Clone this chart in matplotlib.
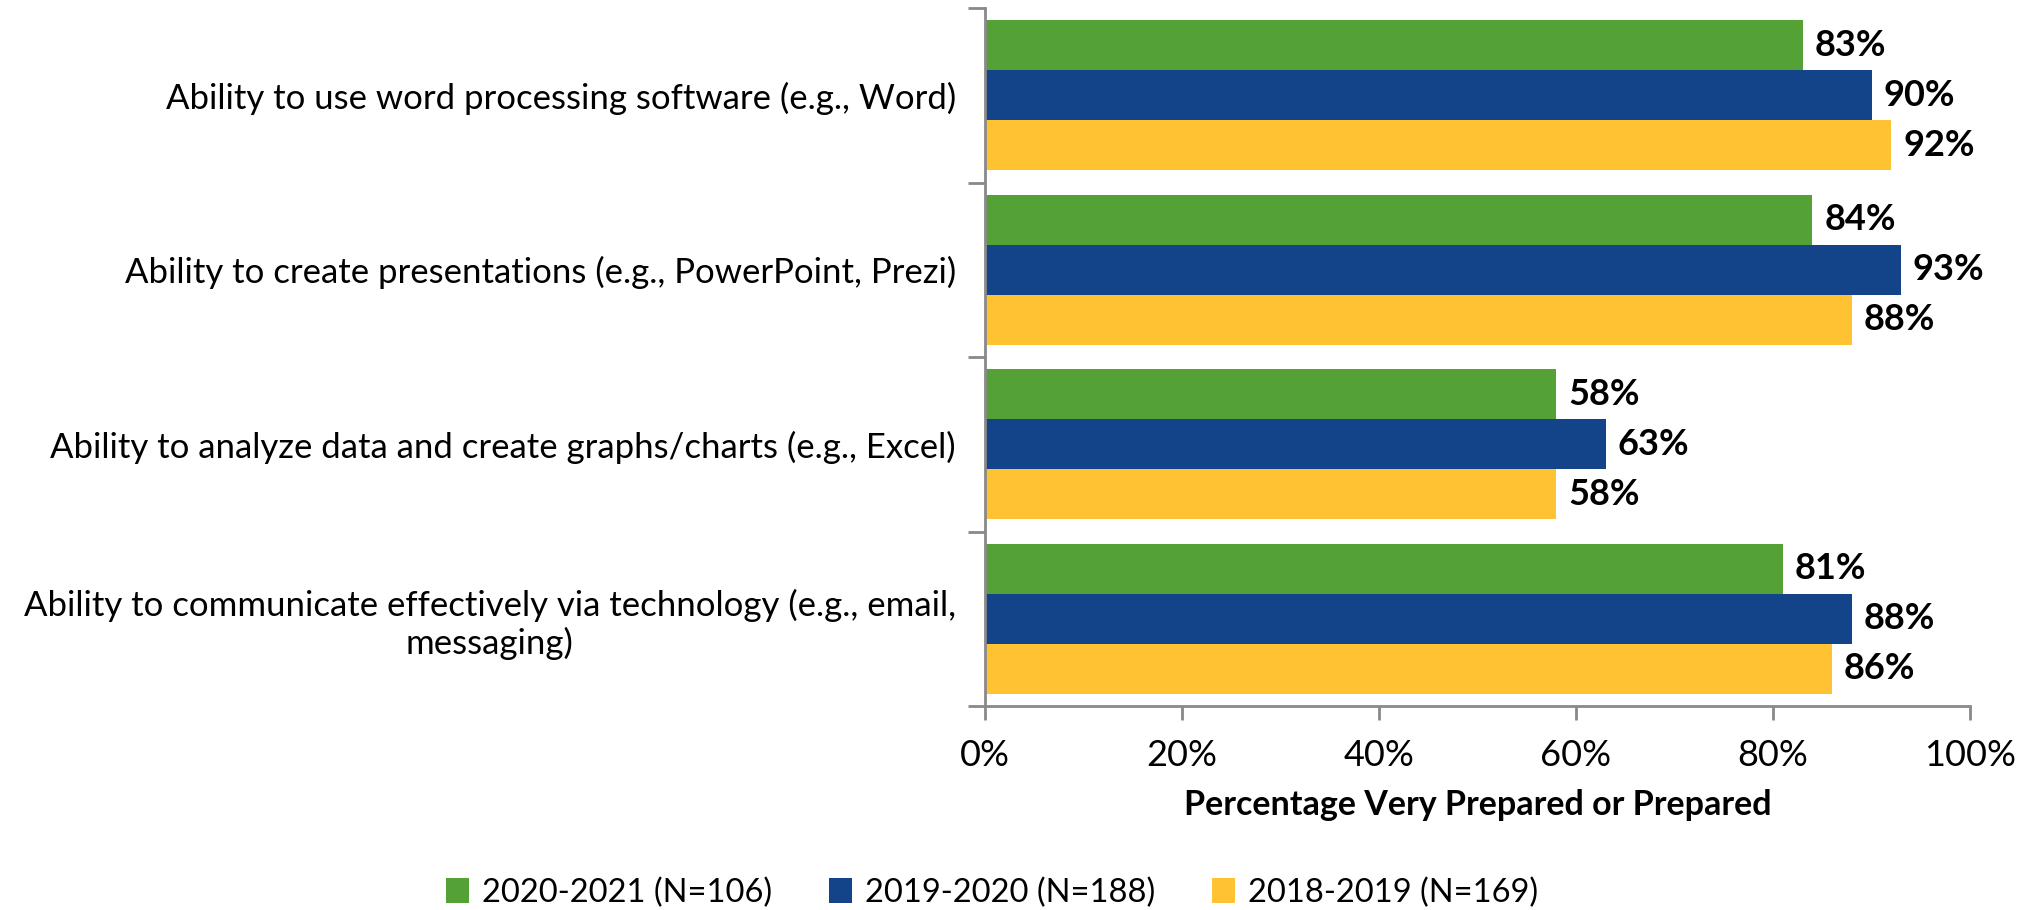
import matplotlib
matplotlib.use("Agg")
import matplotlib.pyplot as plt
import numpy as np

plt.rcParams['font.family'] = ['Lato', 'DejaVu Sans']

categories = [
    "Ability to use word processing software (e.g., Word)",
    "Ability to create presentations (e.g., PowerPoint, Prezi)",
    "Ability to analyze data and create graphs/charts (e.g., Excel)",
    "Ability to communicate effectively via technology (e.g., email,\nmessaging)",
]
series_names = ["2020-2021 (N=106)", "2019-2020 (N=188)", "2018-2019 (N=169)"]
v_2020_2021 = [83, 84, 58, 81]
v_2019_2020 = [90, 93, 63, 88]
v_2018_2019 = [92, 88, 58, 86]
values = [v_2020_2021, v_2019_2020, v_2018_2019]
colors = ["#54A136", "#134389", "#FFC232"]
xticks = [0, 20, 40, 60, 80, 100]
xlabel = "Percentage Very Prepared or Prepared"

fig = plt.figure(figsize=(20.3, 9.1), dpi=100)
ax = fig.add_axes([985/2030, 1-706/910, (1970-985)/2030, (706-8)/910])

n = len(categories)
y = np.arange(n)
h = 50/174
offsets = [-h, 0, h]
for vals, name, col, off in zip(values, series_names, colors, offsets):
    bars = ax.barh(y + off, vals, height=h, color=col, label=name, edgecolor='none')
    for b, v in zip(bars, vals):
        ax.text(v + 1.2, b.get_y() + b.get_height()/2, f"{v}%", va='center', ha='left',
                fontsize=26, fontweight='bold', color='black')

ax.set_xlim(0, 100)
ax.set_ylim(n - 0.5, -0.5)
ax.set_xticks(xticks)
ax.set_xticklabels([f"{t}%" for t in xticks], fontsize=26)
ax.set_yticks(y)
ax.set_yticklabels(categories, fontsize=25, multialignment='center', linespacing=1.2)
ax.set_yticks(np.arange(-0.5, n, 1.0), minor=True)
ax.tick_params(axis='y', which='major', length=0, pad=21)
ax.tick_params(axis='y', which='minor', length=12, width=2, color='#898989', direction='out')
ax.tick_params(axis='x', which='major', length=10, width=2, color='#898989', pad=14)
for s in ['top', 'right']:
    ax.spines[s].set_visible(False)
for s in ['left', 'bottom']:
    ax.spines[s].set_color('#898989')
    ax.spines[s].set_linewidth(2)
ax.set_xlabel(xlabel, fontsize=24.5, fontweight='bold', labelpad=12)

handles, labels = ax.get_legend_handles_labels()
fig.legend(handles, labels, loc='center', bbox_to_anchor=(992/2030, 1-893/910), ncol=3,
           frameon=False, fontsize=23.5, handlelength=0.7, handleheight=0.8,
           handletextpad=0.4, columnspacing=1.75)

fig.savefig("out.png", dpi=100)
